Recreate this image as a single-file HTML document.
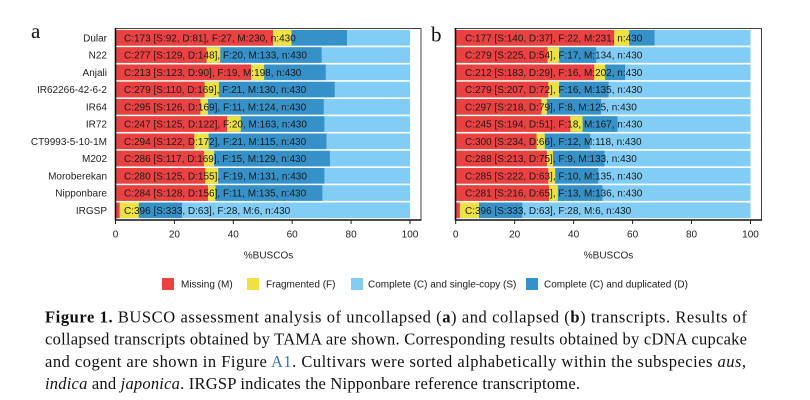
<!DOCTYPE html>
<html><head><meta charset="utf-8"><style>
html,body{margin:0;padding:0;background:#fff;}
svg{display:block;}
text{font-family:"Liberation Sans",sans-serif;}
.lab{font-size:10px;fill:#222;text-anchor:end;}
.dat{font-size:10px;fill:#1a1a1a;}
.tk{font-size:10px;fill:#222;text-anchor:middle;}
.cap{font-family:"Liberation Serif",serif;font-size:16.5px;fill:#111;}
</style></head><body>
<svg width="810" height="400" viewBox="0 0 810 400" xmlns="http://www.w3.org/2000/svg">
<rect width="810" height="400" fill="#fff"/>
<text x="31" y="38" style="font-family:'Liberation Serif',serif;font-size:21px" fill="#111">a</text>
<text x="431" y="41.5" style="font-family:'Liberation Serif',serif;font-size:21px" fill="#111">b</text>

<g transform="translate(115.5,0) scale(0.6849,1)">
 <g transform="translate(0,30)"><rect width="430" height="15.6" fill="#81CDF6"/><rect width="338" height="15.6" fill="#3591C8"/><rect width="257" height="15.6" fill="#EEE143"/><rect width="230" height="15.6" fill="#EC4142"/></g>
 <g transform="translate(0,47.25)"><rect width="430" height="15.6" fill="#81CDF6"/><rect width="301" height="15.6" fill="#3591C8"/><rect width="153" height="15.6" fill="#EEE143"/><rect width="133" height="15.6" fill="#EC4142"/></g>
 <g transform="translate(0,64.5)"><rect width="430" height="15.6" fill="#81CDF6"/><rect width="307" height="15.6" fill="#3591C8"/><rect width="217" height="15.6" fill="#EEE143"/><rect width="198" height="15.6" fill="#EC4142"/></g>
 <g transform="translate(0,81.75)"><rect width="430" height="15.6" fill="#81CDF6"/><rect width="320" height="15.6" fill="#3591C8"/><rect width="151" height="15.6" fill="#EEE143"/><rect width="130" height="15.6" fill="#EC4142"/></g>
 <g transform="translate(0,99)"><rect width="430" height="15.6" fill="#81CDF6"/><rect width="304" height="15.6" fill="#3591C8"/><rect width="135" height="15.6" fill="#EEE143"/><rect width="124" height="15.6" fill="#EC4142"/></g>
 <g transform="translate(0,116.25)"><rect width="430" height="15.6" fill="#81CDF6"/><rect width="305" height="15.6" fill="#3591C8"/><rect width="183" height="15.6" fill="#EEE143"/><rect width="163" height="15.6" fill="#EC4142"/></g>
 <g transform="translate(0,133.5)"><rect width="430" height="15.6" fill="#81CDF6"/><rect width="308" height="15.6" fill="#3591C8"/><rect width="136" height="15.6" fill="#EEE143"/><rect width="115" height="15.6" fill="#EC4142"/></g>
 <g transform="translate(0,150.75)"><rect width="430" height="15.6" fill="#81CDF6"/><rect width="313" height="15.6" fill="#3591C8"/><rect width="144" height="15.6" fill="#EEE143"/><rect width="129" height="15.6" fill="#EC4142"/></g>
 <g transform="translate(0,168)"><rect width="430" height="15.6" fill="#81CDF6"/><rect width="305" height="15.6" fill="#3591C8"/><rect width="150" height="15.6" fill="#EEE143"/><rect width="131" height="15.6" fill="#EC4142"/></g>
 <g transform="translate(0,185.25)"><rect width="430" height="15.6" fill="#81CDF6"/><rect width="302" height="15.6" fill="#3591C8"/><rect width="146" height="15.6" fill="#EEE143"/><rect width="135" height="15.6" fill="#EC4142"/></g>
 <g transform="translate(0,202.5)"><rect width="430" height="15.6" fill="#81CDF6"/><rect width="97" height="15.6" fill="#3591C8"/><rect width="34" height="15.6" fill="#EEE143"/><rect width="6" height="15.6" fill="#EC4142"/></g>
</g>

<g transform="translate(455.7,0) scale(0.6856,1)">
 <g transform="translate(0,30)"><rect width="430" height="15.6" fill="#81CDF6"/><rect width="290" height="15.6" fill="#3591C8"/><rect width="253" height="15.6" fill="#EEE143"/><rect width="231" height="15.6" fill="#EC4142"/></g>
 <g transform="translate(0,47.25)"><rect width="430" height="15.6" fill="#81CDF6"/><rect width="205" height="15.6" fill="#3591C8"/><rect width="151" height="15.6" fill="#EEE143"/><rect width="134" height="15.6" fill="#EC4142"/></g>
 <g transform="translate(0,64.5)"><rect width="430" height="15.6" fill="#81CDF6"/><rect width="247" height="15.6" fill="#3591C8"/><rect width="218" height="15.6" fill="#EEE143"/><rect width="202" height="15.6" fill="#EC4142"/></g>
 <g transform="translate(0,81.75)"><rect width="430" height="15.6" fill="#81CDF6"/><rect width="223" height="15.6" fill="#3591C8"/><rect width="151" height="15.6" fill="#EEE143"/><rect width="135" height="15.6" fill="#EC4142"/></g>
 <g transform="translate(0,99)"><rect width="430" height="15.6" fill="#81CDF6"/><rect width="212" height="15.6" fill="#3591C8"/><rect width="133" height="15.6" fill="#EEE143"/><rect width="125" height="15.6" fill="#EC4142"/></g>
 <g transform="translate(0,116.25)"><rect width="430" height="15.6" fill="#81CDF6"/><rect width="236" height="15.6" fill="#3591C8"/><rect width="185" height="15.6" fill="#EEE143"/><rect width="167" height="15.6" fill="#EC4142"/></g>
 <g transform="translate(0,133.5)"><rect width="430" height="15.6" fill="#81CDF6"/><rect width="196" height="15.6" fill="#3591C8"/><rect width="130" height="15.6" fill="#EEE143"/><rect width="118" height="15.6" fill="#EC4142"/></g>
 <g transform="translate(0,150.75)"><rect width="430" height="15.6" fill="#81CDF6"/><rect width="217" height="15.6" fill="#3591C8"/><rect width="142" height="15.6" fill="#EEE143"/><rect width="133" height="15.6" fill="#EC4142"/></g>
 <g transform="translate(0,168)"><rect width="430" height="15.6" fill="#81CDF6"/><rect width="208" height="15.6" fill="#3591C8"/><rect width="145" height="15.6" fill="#EEE143"/><rect width="135" height="15.6" fill="#EC4142"/></g>
 <g transform="translate(0,185.25)"><rect width="430" height="15.6" fill="#81CDF6"/><rect width="214" height="15.6" fill="#3591C8"/><rect width="149" height="15.6" fill="#EEE143"/><rect width="136" height="15.6" fill="#EC4142"/></g>
 <g transform="translate(0,202.5)"><rect width="430" height="15.6" fill="#81CDF6"/><rect width="97" height="15.6" fill="#3591C8"/><rect width="34" height="15.6" fill="#EEE143"/><rect width="6" height="15.6" fill="#EC4142"/></g>
</g>

<rect x="115.5" y="28.5" width="305.5" height="191.5" fill="none" stroke="#444" stroke-width="1"/>
<line x1="115.5" y1="28" x2="115.5" y2="220.5" stroke="#111" stroke-width="1.6"/>
<line x1="115" y1="220" x2="421.5" y2="220" stroke="#111" stroke-width="1.6"/>
<rect x="455.5" y="28.5" width="306" height="191.5" fill="none" stroke="#444" stroke-width="1"/>
<line x1="455.5" y1="28" x2="455.5" y2="220.5" stroke="#111" stroke-width="1.6"/>
<line x1="455" y1="220" x2="762" y2="220" stroke="#111" stroke-width="1.6"/>

<g stroke="#222" stroke-width="1">
 <line x1="115.5" y1="220" x2="115.5" y2="224"/><line x1="174.4" y1="220" x2="174.4" y2="224"/><line x1="233.3" y1="220" x2="233.3" y2="224"/><line x1="292.2" y1="220" x2="292.2" y2="224"/><line x1="351.1" y1="220" x2="351.1" y2="224"/><line x1="410" y1="220" x2="410" y2="224"/>
 <line x1="455.7" y1="220" x2="455.7" y2="224"/><line x1="514.7" y1="220" x2="514.7" y2="224"/><line x1="573.6" y1="220" x2="573.6" y2="224"/><line x1="632.6" y1="220" x2="632.6" y2="224"/><line x1="691.5" y1="220" x2="691.5" y2="224"/><line x1="750.5" y1="220" x2="750.5" y2="224"/>
</g>
<text class="tk" x="115.5" y="237.5">0</text><text class="tk" x="174.4" y="237.5">20</text><text class="tk" x="233.3" y="237.5">40</text><text class="tk" x="292.2" y="237.5">60</text><text class="tk" x="351.1" y="237.5">80</text><text class="tk" x="410" y="237.5">100</text>
<text class="tk" x="455.7" y="237.5">0</text><text class="tk" x="514.7" y="237.5">20</text><text class="tk" x="573.6" y="237.5">40</text><text class="tk" x="632.6" y="237.5">60</text><text class="tk" x="691.5" y="237.5">80</text><text class="tk" x="750.5" y="237.5">100</text>
<text class="tk" x="268.5" y="258.5">%BUSCOs</text>
<text class="tk" x="608.5" y="258.5">%BUSCOs</text>

<text class="lab" x="107" y="41.4">Dular</text>
<text class="lab" x="107" y="58.65">N22</text>
<text class="lab" x="107" y="75.9">Anjali</text>
<text class="lab" x="107" y="93.15">IR62266-42-6-2</text>
<text class="lab" x="107" y="110.4">IR64</text>
<text class="lab" x="107" y="127.65">IR72</text>
<text class="lab" x="107" y="144.9">CT9993-5-10-1M</text>
<text class="lab" x="107" y="162.15">M202</text>
<text class="lab" x="107" y="179.4">Moroberekan</text>
<text class="lab" x="107" y="196.65">Nipponbare</text>
<text class="lab" x="107" y="213.9">IRGSP</text>

<text class="dat" x="124" y="41.4">C:173 [S:92, D:81], F:27, M:230, n:430</text>
<text class="dat" x="124" y="58.65">C:277 [S:129, D:148], F:20, M:133, n:430</text>
<text class="dat" x="124" y="75.9">C:213 [S:123, D:90], F:19, M:198, n:430</text>
<text class="dat" x="124" y="93.15">C:279 [S:110, D:169], F:21, M:130, n:430</text>
<text class="dat" x="124" y="110.4">C:295 [S:126, D:169], F:11, M:124, n:430</text>
<text class="dat" x="124" y="127.65">C:247 [S:125, D:122], F:20, M:163, n:430</text>
<text class="dat" x="124" y="144.9">C:294 [S:122, D:172], F:21, M:115, n:430</text>
<text class="dat" x="124" y="162.15">C:286 [S:117, D:169], F:15, M:129, n:430</text>
<text class="dat" x="124" y="179.4">C:280 [S:125, D:155], F:19, M:131, n:430</text>
<text class="dat" x="124" y="196.65">C:284 [S:128, D:156], F:11, M:135, n:430</text>
<text class="dat" x="124" y="213.9">C:396 [S:333, D:63], F:28, M:6, n:430</text>

<text class="dat" x="465" y="41.4">C:177 [S:140, D:37], F:22, M:231, n:430</text>
<text class="dat" x="465" y="58.65">C:279 [S:225, D:54], F:17, M:134, n:430</text>
<text class="dat" x="465" y="75.9">C:212 [S:183, D:29], F:16, M:202, n:430</text>
<text class="dat" x="465" y="93.15">C:279 [S:207, D:72], F:16, M:135, n:430</text>
<text class="dat" x="465" y="110.4">C:297 [S:218, D:79], F:8, M:125, n:430</text>
<text class="dat" x="465" y="127.65">C:245 [S:194, D:51], F:18, M:167, n:430</text>
<text class="dat" x="465" y="144.9">C:300 [S:234, D:66], F:12, M:118, n:430</text>
<text class="dat" x="465" y="162.15">C:288 [S:213, D:75], F:9, M:133, n:430</text>
<text class="dat" x="465" y="179.4">C:285 [S:222, D:63], F:10, M:135, n:430</text>
<text class="dat" x="465" y="196.65">C:281 [S:216, D:65], F:13, M:136, n:430</text>
<text class="dat" x="465" y="213.9">C:396 [S:333, D:63], F:28, M:6, n:430</text>

<rect x="162" y="278" width="12" height="12" fill="#EC4142"/>
<text class="dat" x="181" y="287.5">Missing (M)</text>
<rect x="247" y="278" width="12" height="12" fill="#EEE143"/>
<text class="dat" x="266" y="287.5">Fragmented (F)</text>
<rect x="351" y="278" width="12" height="12" fill="#81CDF6"/>
<text class="dat" x="368" y="287.5">Complete (C) and single-copy (S)</text>
<rect x="526" y="278" width="12" height="12" fill="#3591C8"/>
<text class="dat" x="544" y="287.5">Complete (C) and duplicated (D)</text>

<text class="cap" x="45" y="322.3" textLength="702" lengthAdjust="spacing"><tspan font-weight="bold">Figure 1.</tspan> BUSCO assessment analysis of uncollapsed (<tspan font-weight="bold">a</tspan>) and collapsed (<tspan font-weight="bold">b</tspan>) transcripts. Results of</text>
<text class="cap" x="45" y="344.6" textLength="702" lengthAdjust="spacing">collapsed transcripts obtained by TAMA are shown. Corresponding results obtained by cDNA cupcake</text>
<text class="cap" x="45" y="366.9" textLength="701" lengthAdjust="spacing">and cogent are shown in Figure <tspan fill="#3a74c0">A1</tspan>. Cultivars were sorted alphabetically within the subspecies <tspan font-style="italic">aus</tspan>,</text>
<text class="cap" x="45" y="389.2" textLength="535" lengthAdjust="spacing"><tspan font-style="italic">indica</tspan> and <tspan font-style="italic">japonica</tspan>. IRGSP indicates the Nipponbare reference transcriptome.</text>
</svg>
</body></html>
